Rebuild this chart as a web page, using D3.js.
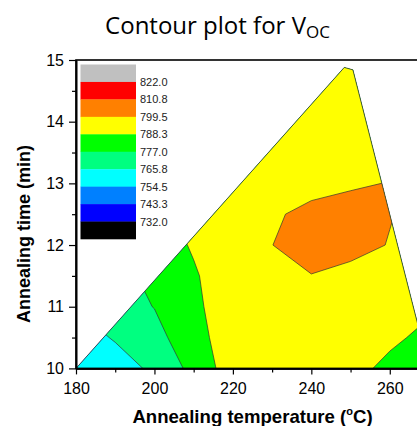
<!DOCTYPE html>
<html>
<head>
<meta charset="utf-8">
<script src="https://cdn.jsdelivr.net/npm/d3@7"></script>
<style>
  body { margin: 0; background: #fff; overflow: hidden; }
  svg { display: block; font-family: "Liberation Sans", Arial, sans-serif; }
</style>
</head>
<body>
<script>
// grid of Voc values (mV), rows = annealing time, columns = annealing temperature
const temps = [180, 190, 200, 210, 220, 230, 240, 250, 260, 270];
const times = [10, 10.5, 11, 11.5, 12, 12.5, 13, 13.5, 14, 14.5, 15];
const vocGrid = [
  [758, 762, 767.4, 780.5, 794.2, 795, 794, 792, 785.5, 782],
  [762, 766.5, 773, 784.8, 793.5, 797, 797, 794, 790.5, 785.4],
  [766, 772, 777.3, 786, 794.8, 797.5, 798.5, 794.5, 793, 790],
  [770, 774, 779.4, 787, 795.7, 796.5, 799.2, 795.5, 795, 791],
  [772, 776, 782, 789.5, 796, 799.4, 804, 804, 798.9, 793],
  [776, 781, 786, 791.5, 795.5, 798, 802.4, 803, 800.1, 795],
  [780, 785, 789, 792, 794, 796, 795.8, 798.4, 799.8, 796],
  [785, 789, 791, 793, 794, 795, 796, 797, 798, 795],
  [789, 790, 792, 793, 794, 795, 796, 797, 797, 794],
  [790, 791, 792, 793, 794, 795, 796, 796, 796, 793],
  [790, 791, 792, 793, 794, 795, 795, 795, 795, 792]
];

// outline of the measured region
const hullTemp = [180, 248.4, 250.6, 270];
const hullTime = [10, 14.88, 14.84, 10];

const levels = [732, 743.3, 754.5, 765.8, 777, 788.3, 799.5, 810.8, 822];
const levelLabels = ["732.0", "743.3", "754.5", "765.8", "777.0", "788.3", "799.5", "810.8", "822.0"];
const levelColors = ["#000000", "#0000ff", "#0080ff", "#00ffff", "#00ff80",
                     "#00ff00", "#ffff00", "#ff8000", "#ff0000", "#c0c0c0"];

const xTicks = [180, 200, 220, 240, 260];
const xMinor = [190, 210, 230, 250, 270];
const yTicks = [10, 11, 12, 13, 14, 15];
const yMinor = [10.5, 11.5, 12.5, 13.5, 14.5];

const width = 417, height = 426;
const margin = {left: 76, top: 60, right: 429, bottom: 368.4};

const x = d3.scaleLinear().domain([180, 270]).range([margin.left, margin.right]);
const y = d3.scaleLinear().domain([10, 15]).range([margin.bottom, margin.top]);

const svg = d3.select("body").append("svg")
    .attr("width", width)
    .attr("height", height);

// clip contours to the measured region
const hull = hullTemp.map((t, i) => [x(t), y(hullTime[i])]);
svg.append("clipPath").attr("id", "hull-clip")
  .append("polygon")
    .attr("points", hull.map(p => p.join(",")).join(" "));

const n = temps.length, m = times.length;
const values = [];
vocGrid.forEach(row => row.forEach(v => values.push(v)));

const contours = d3.contours()
    .size([n, m])
    .thresholds(levels)(values);

const tStep = temps[1] - temps[0];
const hStep = times[1] - times[0];
const gridToPx = d3.geoTransform({
  point: function(gx, gy) {
    this.stream.point(x(temps[0] + (gx - 0.5) * tStep), y(times[0] + (gy - 0.5) * hStep));
  }
});
const path = d3.geoPath(gridToPx);

svg.append("g")
    .attr("clip-path", "url(#hull-clip)")
  .selectAll("path")
  .data(contours)
  .enter().append("path")
    .attr("d", path)
    .attr("fill", (d, i) => levelColors[i + 1])
    .attr("stroke", "#333")
    .attr("stroke-width", 0.7);

svg.append("polyline")
    .attr("points", hull.map(p => p.join(",")).join(" "))
    .attr("fill", "none")
    .attr("stroke", "#333")
    .attr("stroke-width", 0.8);

// frame
svg.append("rect")
    .attr("x", margin.left)
    .attr("y", margin.top)
    .attr("width", margin.right - margin.left)
    .attr("height", margin.bottom - margin.top)
    .attr("fill", "none")
    .attr("stroke", "#000")
    .attr("stroke-width", 1.6);

// axes
svg.append("g")
    .attr("transform", "translate(0," + margin.bottom + ")")
    .call(d3.axisBottom(x).tickValues(xTicks).tickSize(6).tickSizeOuter(0).tickPadding(8));
svg.append("g")
    .attr("transform", "translate(0," + margin.bottom + ")")
    .call(d3.axisBottom(x).tickValues(xMinor).tickSize(4).tickSizeOuter(0).tickFormat(""));

svg.append("g")
    .attr("transform", "translate(" + margin.left + ",0)")
    .call(d3.axisLeft(y).tickValues(yTicks).tickSize(7).tickSizeOuter(0).tickPadding(5)
      .tickFormat(d3.format("d")));
svg.append("g")
    .attr("transform", "translate(" + margin.left + ",0)")
    .call(d3.axisLeft(y).tickValues(yMinor).tickSize(4).tickSizeOuter(0).tickFormat(""));

svg.selectAll(".domain").attr("stroke-width", 1.6);
svg.selectAll(".tick line").attr("stroke-width", 1.2);
svg.selectAll(".tick text")
    .attr("font-size", 16)
    .attr("font-family", "Liberation Sans, Arial, sans-serif")
    .attr("fill", "#000");

// legend
const bandH = 17.45;
const legend = svg.append("g").attr("transform", "translate(80.5,64.5)");
const legendColors = levelColors.slice().reverse();
legend.selectAll("rect")
  .data(legendColors)
  .enter().append("rect")
    .attr("x", 0)
    .attr("y", (d, i) => i * bandH)
    .attr("width", 55.5)
    .attr("height", bandH + 0.3)
    .attr("fill", d => d);
legend.selectAll("text")
  .data(levelLabels.slice().reverse())
  .enter().append("text")
    .attr("x", 59.5)
    .attr("y", (d, i) => (i + 1) * bandH + 4)
    .attr("font-size", 11)
    .attr("fill", "#222")
    .text(d => d);

// titles
const title = svg.append("text")
    .attr("x", 217.5)
    .attr("y", 34.3)
    .attr("text-anchor", "middle")
    .attr("font-family", "Open Sans, sans-serif")
    .attr("font-size", 24)
    .attr("fill", "#000");
title.append("tspan").text("Contour plot for V");
title.append("tspan")
    .attr("font-size", 17)
    .attr("dy", 4)
    .text("OC");

const xTitle = svg.append("text")
    .attr("x", 252.5)
    .attr("y", 422.7)
    .attr("text-anchor", "middle")
    .attr("font-weight", "bold")
    .attr("font-size", 18.6);
xTitle.append("tspan").text("Annealing temperature (");
xTitle.append("tspan").attr("font-size", 11).attr("dy", -8).text("o");
xTitle.append("tspan").attr("dy", 8).text("C)");

svg.append("text")
    .attr("transform", "translate(30,234) rotate(-90)")
    .attr("text-anchor", "middle")
    .attr("font-weight", "bold")
    .attr("font-size", 18)
    .text("Annealing time (min)");
</script>
</body>
</html>
